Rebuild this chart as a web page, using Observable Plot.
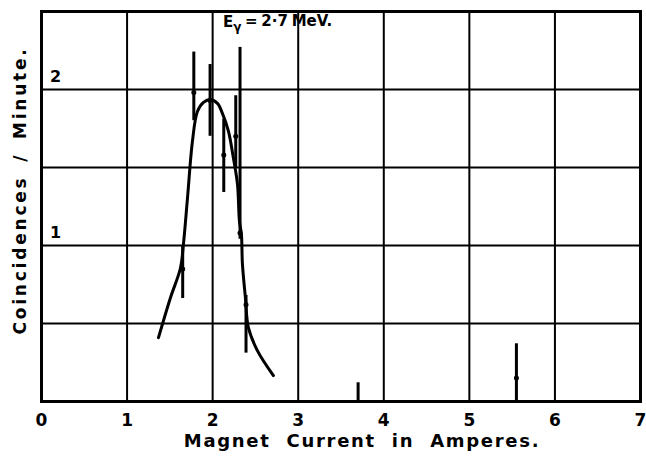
<!DOCTYPE html>
<html>
<head>
<meta charset="utf-8">
<script src="https://cdn.jsdelivr.net/npm/d3@7"></script>
<script src="https://cdn.jsdelivr.net/npm/@observablehq/plot@0.6"></script>
<style>
  html, body { margin: 0; padding: 0; background: #fff; }
  #chart svg { display: block; }
</style>
</head>
<body>
<div id="chart"></div>
<script>
// Axis ticks / labels
const xTicks = [0, 1, 2, 3, 4, 5, 6, 7];
const yGrid = [0.5, 1, 1.5, 2];
const yLabels = [1, 2];
const xLabel = "Magnet Current in Amperes.";
const yLabel = "Coincidences / Minute.";
const titleText = "Eγ = 2·7 MeV.";
const titleX = [2.12];
const titleY = [2.43];

// Measured points with error bars
const barX   = [1.65, 1.78, 1.97, 2.13, 2.27, 2.32, 2.39, 3.70, 5.55];
const barLo  = [0.66, 1.80, 1.70, 1.34, 1.50, 1.04, 0.31, 0.00, 0.00];
const barHi  = [1.00, 2.24, 2.16, 1.81, 1.96, 2.27, 0.68, 0.12, 0.37];
const barMid = [0.85, 1.98, 1.93, 1.58, 1.70, 1.08, 0.62, null, 0.15];

// Hand-drawn fitted curve
const curveX = [1.367, 1.507, 1.624, 1.659, 1.706, 1.764, 1.822, 1.893, 1.974, 2.056, 2.114, 2.185, 2.243, 2.290, 2.313, 2.336, 2.348, 2.383, 2.418, 2.523, 2.710];
const curveY = [0.409, 0.665, 0.856, 1.010, 1.304, 1.668, 1.859, 1.917, 1.936, 1.911, 1.847, 1.732, 1.559, 1.393, 1.157, 1.073, 0.882, 0.665, 0.473, 0.326, 0.166];

const bars = barX.map((x, i) => ({x, lo: barLo[i], hi: barHi[i], mid: barMid[i]}));
const curve = curveX.map((x, i) => ({x, y: curveY[i]}));
const mids = bars.filter(d => d.mid != null);

const font = "'DejaVu Sans', sans-serif";

const chart = Plot.plot({
  width: 646,
  height: 458,
  marginLeft: 41,
  marginRight: 6,
  marginTop: 11,
  marginBottom: 57,
  style: {fontFamily: font, background: "#fff", color: "#000"},
  x: {domain: [0, 7], axis: null},
  y: {domain: [0, 2.5], axis: null},
  marks: [
    Plot.gridX(xTicks, {stroke: "#000", strokeOpacity: 1, strokeWidth: 2}),
    Plot.gridY(yGrid, {stroke: "#000", strokeOpacity: 1, strokeWidth: 2}),
    Plot.frame({stroke: "#000", strokeWidth: 3}),
    // x tick labels
    Plot.text(xTicks, {x: d => d, frameAnchor: "bottom", dy: 19, text: d => String(d),
      fontSize: 17, fontWeight: "bold", lineAnchor: "middle"}),
    // x axis title
    Plot.text([xLabel], {frameAnchor: "bottom", dx: 21, dy: 40, text: d => d,
      fontSize: 18, fontWeight: "bold", lineAnchor: "middle"}),
    // y tick labels inside the frame
    Plot.text(yLabels, {y: d => d, frameAnchor: "left", dx: 14, dy: -13, text: d => String(d),
      textAnchor: "middle", fontSize: 16, fontWeight: "bold", lineAnchor: "middle"}),
    // y axis title
    Plot.text([yLabel], {frameAnchor: "left", dx: -21, dy: -16, rotate: -90, text: d => d,
      textAnchor: "middle", fontSize: 17, fontWeight: "bold", lineAnchor: "middle"}),
    // energy annotation
    Plot.text([titleText], {x: () => titleX[0], y: () => titleY[0], text: d => d,
      textAnchor: "start", fontSize: 15, fontWeight: "bold", lineAnchor: "middle"}),
    // fitted curve
    Plot.line(curve, {x: "x", y: "y", curve: "catmull-rom", stroke: "#000", strokeWidth: 3}),
    // error bars
    Plot.ruleX(bars, {x: "x", y1: "lo", y2: "hi", stroke: "#000", strokeWidth: 3}),
    Plot.dot(mids, {x: "x", y: "mid", r: 2.5, fill: "#000", stroke: "none"})
  ]
});

document.getElementById("chart").appendChild(chart);

// letter spacing & subscript tweaks on the text
const svg = d3.select(chart);
svg.selectAll("text").each(function() {
  const t = this.textContent;
  if (t === xLabel) { this.setAttribute("letter-spacing", "1.7"); this.setAttribute("word-spacing", "8"); }
  if (t === yLabel) { this.setAttribute("letter-spacing", "2.8"); this.setAttribute("word-spacing", "5"); }
  if (t === titleText) {
    const el = d3.select(this);
    el.text(null);
    el.attr("word-spacing", "-1.5");
    el.append("tspan").text("E");
    el.append("tspan").attr("dy", "0.3em").attr("font-size", "12").text("γ");
    el.append("tspan").attr("dy", "-0.3em").text(" = 2·7 MeV.");
  }
});
</script>
</body>
</html>
